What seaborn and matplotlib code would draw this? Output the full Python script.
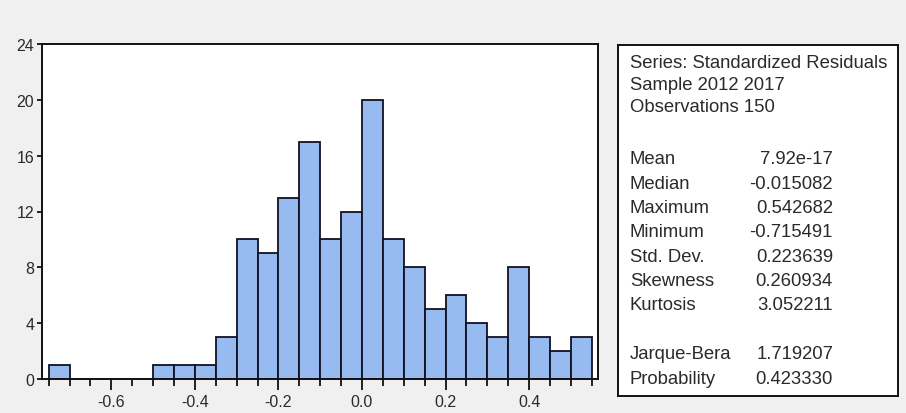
import numpy as np
import pandas as pd
import matplotlib
matplotlib.use("Agg")
import matplotlib.pyplot as plt
from matplotlib.ticker import FixedLocator
import seaborn as sns

# Histogram of standardized residuals: 26 bins of width 0.05 starting at -0.75
bin_start = -0.75
bin_width = 0.05
counts = [1, 0, 0, 0, 0, 1, 1, 1, 3, 10, 9, 13, 17, 10, 12, 20, 10, 8, 5, 6,
          4, 3, 8, 3, 2, 3]

x_tick_values = [-0.6, -0.4, -0.2, 0.0, 0.2, 0.4]
x_tick_labels = ["-0.6", "-0.4", "-0.2", "0.0", "0.2", "0.4"]
y_tick_values = [0, 4, 8, 12, 16, 20, 24]

header_lines = ["Series: Standardized Residuals", "Sample 2012 2017",
                "Observations 150"]
stat_names = ["Mean", "Median", "Maximum", "Minimum", "Std. Dev.",
              "Skewness", "Kurtosis"]
stat_values = ["7.92e-17", "-0.015082", "0.542682", "-0.715491", "0.223639",
               "0.260934", "3.052211"]
test_names = ["Jarque-Bera", "Probability"]
test_values = ["1.719207", "0.423330"]

sns.set_style("white")
plt.rcParams["font.family"] = ["Liberation Sans", "DejaVu Sans"]

n_bins = len(counts)
edges = [round(bin_start + bin_width * i, 4) for i in range(n_bins + 1)]
centers = [(edges[i] + edges[i + 1]) / 2 for i in range(n_bins)]
df = pd.DataFrame({"residual": centers, "count": counts})

fig = plt.figure(figsize=(9.06, 4.14), dpi=100)
fig.patch.set_facecolor("#F0F0F0")

ax = fig.add_axes([42 / 906, 1 - 380 / 414, (598 - 42) / 906, (380 - 45) / 414])
ax.set_facecolor("white")
sns.histplot(data=df, x="residual", weights="count", bins=edges, ax=ax,
             color="#97BAF1", alpha=1.0, edgecolor="#111122", linewidth=1.3)

ax.set_xlim(-0.766, 0.565)
ax.set_ylim(0, 24)
ax.set_xlabel("")
ax.set_ylabel("")
ax.set_xticks(x_tick_values)
ax.set_xticklabels(x_tick_labels)
ax.xaxis.set_minor_locator(FixedLocator(edges))
ax.set_yticks(y_tick_values)
ax.tick_params(axis="x", which="major", direction="out", length=8, width=1.3,
               color="#111111", labelsize=11.5, labelcolor="#2a2a2a", pad=3,
               bottom=True)
ax.tick_params(axis="x", which="minor", direction="out", length=5, width=1.3,
               color="#111111", bottom=True)
ax.tick_params(axis="y", which="major", direction="out", length=3.5, width=1.3,
               color="#111111", labelsize=11.5, labelcolor="#2a2a2a", pad=2,
               left=True)
for side in ax.spines.values():
    side.set_visible(True)
    side.set_color("#111111")
    side.set_linewidth(1.4)

# Summary statistics panel
box = fig.add_axes([618 / 906, 1 - 397 / 414, (898 - 618) / 906, (397 - 46) / 414])
box.set_facecolor("white")
box.set_xticks([])
box.set_yticks([])
for side in box.spines.values():
    side.set_visible(True)
    side.set_color("#111111")
    side.set_linewidth(1.4)
box.set_xlim(618, 898)
box.set_ylim(397, 46)

text_kw = dict(fontsize=13.3, color="#2a2a2a", va="center")
label_x = 630
value_x = 833
y = 63
for line in header_lines:
    box.text(label_x, y, line, ha="left", **text_kw)
    y += 22
y = 160
row_step = 24.3
for name, val in zip(stat_names, stat_values):
    box.text(label_x, y, name, ha="left", **text_kw)
    box.text(value_x, y, val, ha="right", **text_kw)
    y += row_step
y = 355
for name, val in zip(test_names, test_values):
    box.text(label_x, y, name, ha="left", **text_kw)
    box.text(value_x, y, val, ha="right", **text_kw)
    y += row_step

fig.savefig("out.png", dpi=100, facecolor=fig.get_facecolor())
